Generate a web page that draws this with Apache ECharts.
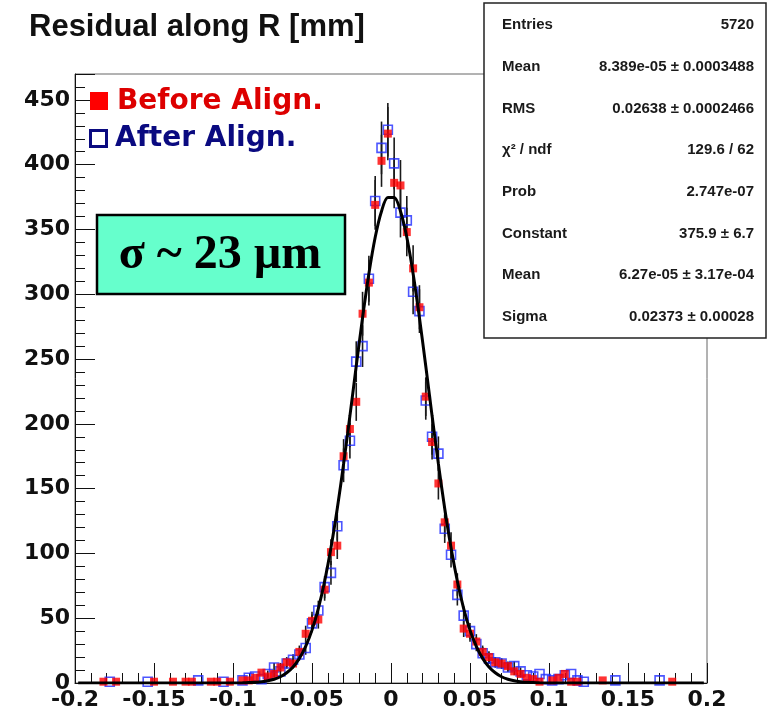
<!DOCTYPE html>
<html>
<head>
<meta charset="utf-8">
<script src="https://cdn.jsdelivr.net/npm/echarts@6/dist/echarts.min.js"></script>
<style>
  html, body { margin: 0; padding: 0; background: #fff; }
  #chart { width: 769px; height: 714px; }
</style>
</head>
<body>
<div id="chart"></div>
<script>
// histogram: 100 bins of 0.004 mm from -0.2 to 0.2
const binLow = -0.2;
const binWidth = 0.004;

const before = [
  0, 0, 0, 0, 1, 0, 1, 0, 0, 0,
  0, 0, 1, 0, 0, 1, 0, 1, 1, 0,
  0, 1, 1, 0, 1, 0, 2, 2, 4, 8,
  5, 7, 12, 16, 15, 24, 38, 48, 49, 72,
  101, 106, 175, 196, 217, 285, 309, 369, 403, 424,
  386, 384, 348, 320, 290, 221, 186, 154, 124, 106,
  76, 42, 38, 32, 24, 20, 16, 15, 13, 9,
  7, 4, 3, 1, 0, 2, 4, 7, 1, 1,
  0, 0, 0, 2, 0, 0, 0, 0, 0, 0,
  0, 0, 0, 0, 1, 0, 0, 0, 0, 0
];

const after = [
  0, 0, 0, 0, 0, 1, 0, 0, 0, 0,
  0, 1, 0, 0, 0, 0, 0, 0, 0, 2,
  0, 0, 0, 1, 0, 0, 2, 4, 5, 3,
  7, 12, 9, 15, 18, 22, 27, 46, 56, 74,
  85, 121, 168, 187, 248, 260, 312, 372, 413, 427,
  401, 363, 357, 302, 287, 218, 190, 177, 119, 99,
  68, 52, 40, 30, 23, 19, 16, 15, 12, 13,
  9, 6, 5, 7, 3, 2, 3, 6, 7, 2,
  1, 0, 0, 0, 0, 2, 0, 0, 0, 0,
  0, 0, 2, 0, 0, 0, 0, 0, 0, 0
];

// error bars, only where they are visible (bins 30..70)
const errFirstBin = 30;
const beforeErr = [
  2.2, 2.6, 3.5, 4.0, 3.9, 4.9, 6.2, 6.9, 7.0, 8.5,
  10.0, 10.3, 13.2, 14.0, 14.7, 16.9, 17.6, 19.2, 20.1, 20.6,
  19.6, 19.6, 18.7, 17.9, 17.0, 14.9, 13.6, 12.4, 11.1, 10.3,
  8.7, 6.5, 6.2, 5.7, 4.9, 4.5, 4.0, 3.9, 3.6, 3.0, 2.6
];
const afterErr = [
  2.6, 3.5, 3.0, 3.9, 4.2, 4.7, 5.2, 6.8, 7.5, 8.6,
  9.2, 11.0, 13.0, 13.7, 15.7, 16.1, 17.7, 19.3, 20.3, 20.7,
  20.0, 19.1, 18.9, 17.4, 16.9, 14.8, 13.8, 13.3, 10.9, 9.9,
  8.2, 7.2, 6.3, 5.5, 4.8, 4.4, 4.0, 3.9, 3.5, 3.6, 3.0
];

// gaussian fit read at the bin centres
const fitCurve = [
  0, 0, 0, 0, 0, 0, 0, 0, 0, 0,
  0, 0, 0, 0, 0, 0, 0, 0, 0, 0,
  0, 0, 0, 0, 0, 0, 0.1, 0.3, 0.5, 1.0,
  1.7, 2.9, 4.8, 7.9, 12.4, 19.0, 28.2, 40.8, 57.4, 78.5,
  104.3, 134.7, 169.1, 206.2, 244.6, 281.9, 315.9, 344.0, 364.1, 374.6,
  374.6, 364.1, 344.0, 315.9, 281.9, 244.6, 206.2, 169.1, 134.7, 104.3,
  78.5, 57.4, 40.8, 28.2, 19.0, 12.4, 7.9, 4.8, 2.9, 1.7,
  1.0, 0.5, 0.3, 0.1, 0, 0, 0, 0, 0, 0,
  0, 0, 0, 0, 0, 0, 0, 0, 0, 0,
  0, 0, 0, 0, 0, 0, 0, 0, 0, 0
];

const statsNames = ['Entries', 'Mean', 'RMS', 'χ² / ndf', 'Prob', 'Constant', 'Mean', 'Sigma'];
const statsValues = ['5720', '8.389e-05 ± 0.0003488', '0.02638 ± 0.0002466', '129.6 / 62',
  '2.747e-07', '375.9 ± 6.7', '6.27e-05 ± 3.17e-04', '0.02373 ± 0.00028'];

const titleText = 'Residual along R [mm]';
const legendNames = ['Before Align.', 'After Align.'];
const sigmaText = 'σ ~ 23 µm';

function binCenter(i) {
  return +(binLow + (i + 0.5) * binWidth).toFixed(4);
}

function points(counts) {
  const out = [];
  counts.forEach(function (v, i) {
    if (v > 0) out.push([binCenter(i), v]);
  });
  return out;
}

function bars(counts, errs) {
  return errs.map(function (e, k) {
    const i = errFirstBin + k;
    return [binCenter(i), counts[i] - e, counts[i] + e];
  });
}

const errData = bars(before, beforeErr).concat(bars(after, afterErr));

const statsGraphics = [{
  type: 'rect', z: 100,
  shape: { x: 484, y: 3, width: 282, height: 335 },
  style: { fill: '#fff', stroke: '#222', lineWidth: 1.5 }
}];
statsNames.forEach(function (name, k) {
  const y = 25 + k * 41.7;
  statsGraphics.push({
    type: 'text', z: 101, x: 502, y: y,
    style: { text: name, fill: '#1a1a1a', font: 'bold 15px "Liberation Sans", Arial', verticalAlign: 'middle' }
  });
  statsGraphics.push({
    type: 'text', z: 101, x: 754, y: y,
    style: { text: statsValues[k], fill: '#1a1a1a', font: 'bold 15px "Liberation Sans", Arial', align: 'right', verticalAlign: 'middle' }
  });
});

const chart = echarts.init(document.getElementById('chart'));

chart.setOption({
  animation: false,
  backgroundColor: '#fff',
  title: {
    text: titleText,
    left: 24, top: 7,
    textStyle: { fontFamily: '"Liberation Sans", Arial', fontSize: 31, fontWeight: 'bold', color: '#111' }
  },
  grid: {
    left: 75, top: 74, right: 62, bottom: 31,
    show: true, borderColor: '#666', borderWidth: 1,
    outerBoundsMode: 'none'
  },
  xAxis: {
    type: 'value', min: -0.2, max: 0.2, interval: 0.05,
    axisLine: { show: true, onZero: false, lineStyle: { color: '#111', width: 1 } },
    axisTick: { show: true, inside: true, length: 20, lineStyle: { color: '#111' } },
    minorTick: { show: true, splitNumber: 5, length: 10, lineStyle: { color: '#111' } },
    splitLine: { show: false },
    axisLabel: { margin: 6, color: '#111', fontFamily: '"DejaVu Sans"', fontWeight: 'bold', fontSize: 22 }
  },
  yAxis: {
    type: 'value', min: 0, max: 470, interval: 50,
    axisLine: { show: true, onZero: false, lineStyle: { color: '#111', width: 1 } },
    axisTick: { show: true, inside: true, length: 20, lineStyle: { color: '#111' } },
    minorTick: { show: true, splitNumber: 5, length: 10, lineStyle: { color: '#111' } },
    splitLine: { show: false },
    axisLabel: { margin: 5, showMaxLabel: false, color: '#111', fontFamily: '"DejaVu Sans"', fontWeight: 'bold', fontSize: 22 }
  },
  series: [
    {
      type: 'custom', name: 'errors', z: 2,
      renderItem: function (params, api) {
        const lo = api.coord([api.value(0), api.value(1)]);
        const hi = api.coord([api.value(0), api.value(2)]);
        return {
          type: 'line',
          shape: { x1: lo[0], y1: lo[1], x2: hi[0], y2: hi[1] },
          style: { stroke: '#1a1a1a', lineWidth: 1.6 }
        };
      },
      encode: { x: 0, y: [1, 2] },
      data: errData
    },
    {
      type: 'scatter', name: legendNames[1], z: 3,
      symbol: 'rect', symbolSize: 9,
      itemStyle: { color: 'rgba(0,0,0,0)', borderColor: '#1f2cff', borderWidth: 1.6 },
      data: points(after)
    },
    {
      type: 'scatter', name: legendNames[0], z: 4,
      symbol: 'rect', symbolSize: 8,
      itemStyle: { color: '#ff0000' },
      data: points(before)
    },
    {
      type: 'line', name: 'fit', z: 5,
      smooth: 0.3, showSymbol: false,
      lineStyle: { color: '#000', width: 3 },
      data: fitCurve.map(function (v, i) { return [binCenter(i), v]; })
    }
  ],
  graphic: [
    // legend
    { type: 'rect', z: 50, shape: { x: 90, y: 92, width: 18, height: 18 }, style: { fill: '#ff0000' } },
    { type: 'text', z: 50, x: 117, y: 102,
      style: { text: legendNames[0], fill: '#dd0000', font: 'bold 28px "DejaVu Sans"', verticalAlign: 'middle' } },
    { type: 'rect', z: 50, shape: { x: 90.5, y: 130.5, width: 16, height: 16 }, style: { fill: '#fff', stroke: '#0a0a80', lineWidth: 3 } },
    { type: 'text', z: 50, x: 115, y: 139,
      style: { text: legendNames[1], fill: '#0a0a80', font: 'bold 28px "DejaVu Sans"', verticalAlign: 'middle' } },
    // sigma note
    { type: 'rect', z: 50, shape: { x: 97, y: 215, width: 248, height: 79 }, style: { fill: '#66ffcc', stroke: '#000', lineWidth: 2.5 } },
    { type: 'text', z: 51, x: 220, y: 256,
      style: { text: sigmaText, fill: '#000', font: 'bold 48px "Liberation Serif", "Times New Roman", serif', align: 'center', verticalAlign: 'middle' } }
  ].concat(statsGraphics)
});
</script>
</body>
</html>
